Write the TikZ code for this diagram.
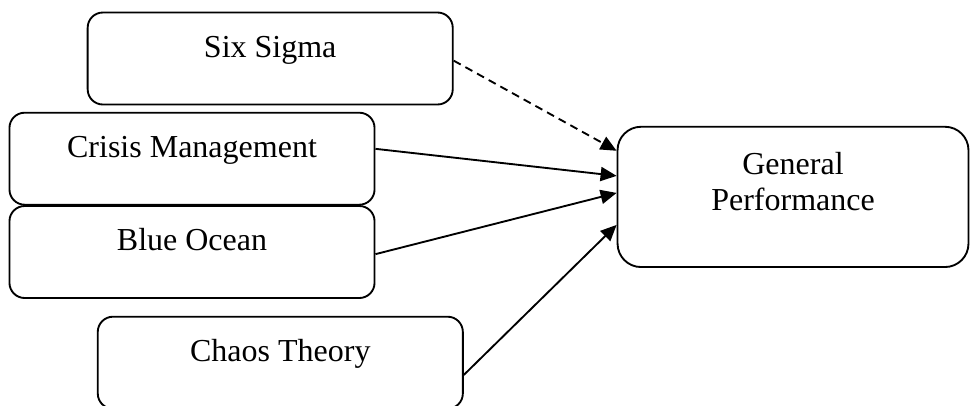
\documentclass[tikz,border=0pt]{standalone}
\usepackage{fontspec}
\setmainfont{Liberation Serif}
\usetikzlibrary{arrows.meta}

\begin{document}
\begin{tikzpicture}[x=0.375pt,y=-0.375pt,font=\fontsize{12}{13.8}\selectfont,
  conbox/.style={draw,line width=0.7pt,rounded corners=5.7pt,minimum width=136.9pt,inner ysep=0pt,text height=16.7pt,text depth=17.8pt},
  outbox/.style={draw,line width=0.7pt,rounded corners=8.8pt,minimum width=131.6pt,minimum height=52.6pt,align=center},
  link/.style={line width=0.7pt,-{Triangle[length=6pt,width=5.3pt]}}]
\useasboundingbox (0,0) rectangle (971,405);
\node[conbox] (sixsigma) at (270.2,58.5) {Six Sigma};
\node[conbox] (crisis) at (192,158.7) {Crisis Management};
\node[conbox] (blue) at (192,252) {Blue Ocean};
\node[conbox] (chaos) at (280.3,362.7) {Chaos Theory};
\node[outbox] (perf) at (793,196.9) {General\\Performance\rule[-11.6pt]{0pt}{0pt}};
\draw[link,dash pattern=on 3pt off 2pt] ([yshift=-0.8pt]sixsigma.east) -- ([yshift=17.3pt]perf.west);
\draw[link] ([yshift=3.7pt]crisis.east) -- ([yshift=7.9pt]perf.west);
\draw[link] ([yshift=-0.8pt]blue.east) -- ([yshift=1.5pt]perf.west);
\draw[link] ([yshift=-4.6pt]chaos.east) -- ([yshift=-10.5pt]perf.west);
\end{tikzpicture}
\end{document}
